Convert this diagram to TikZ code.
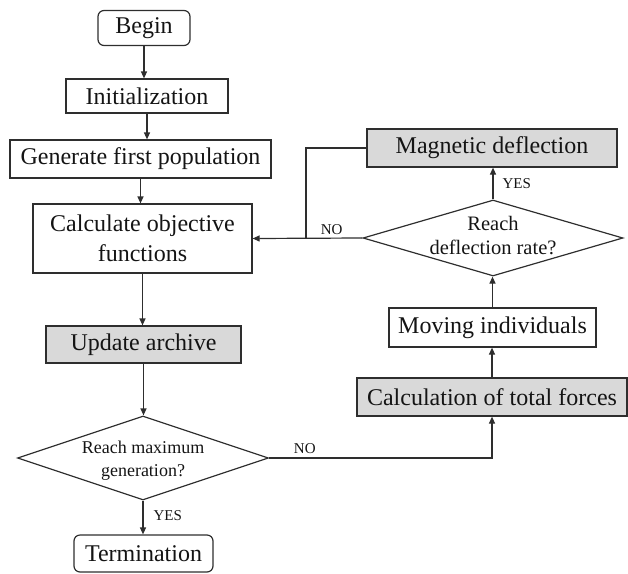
\documentclass[tikz,border=0pt]{standalone}
\usepackage{fontspec}
\setmainfont{Liberation Serif}
\usetikzlibrary{shapes.geometric,arrows.meta}
\definecolor{ln}{HTML}{2E2E2E}
\definecolor{gfill}{HTML}{D9D9D9}
\definecolor{tx}{HTML}{141414}
\tikzset{
  box/.style={draw=ln, line width=1.2pt, rectangle, inner sep=0pt, text=tx, align=center,
    font=\fontsize{24}{30}\selectfont},
  gbox/.style={box, fill=gfill},
  rbox/.style={box, rounded corners=6pt},
  dia/.style={draw=ln, line width=1.2pt, diamond, inner sep=0pt, text=tx},
  arr/.style={draw=ln, line width=1.2pt, -{Triangle[length=7pt,width=6pt]}},
  ln/.style={draw=ln, line width=1.2pt},
  lab/.style={text=tx, font=\fontsize{15}{16}\selectfont, inner sep=2pt}
}
\begin{document}
\begin{tikzpicture}[x=1pt,y=-1pt]
\useasboundingbox (0,0) rectangle (628,573);
\node[rbox, minimum width=92, minimum height=35] (begin) at (144,28) {Begin};
\node[box, minimum width=162, minimum height=34] (init) at (147,96) {Initialization};
\node[box, minimum width=261, minimum height=38] (gen) at (140.5,159) {Generate first population};
\node[box, minimum width=219, minimum height=69] (calc) at (142.5,238.5) {Calculate objective\\functions};
\node[gbox, minimum width=195, minimum height=37] (upd) at (143.5,344.5) {Update archive};
\node[dia, minimum width=251, minimum height=84] (dmax) at (143,458) {};
\node[text=tx, align=center, font=\fontsize{18}{23}\selectfont] (dmaxt) at (143,461) {Reach maximum\\generation?};
\node[rbox, minimum width=139, minimum height=37] (term) at (143.5,553.5) {Termination};
\node[gbox, minimum width=270, minimum height=38] (tot) at (492,397) {Calculation of total forces};
\node[box, minimum width=207, minimum height=39] (mov) at (492.5,327.5) {Moving individuals};
\node[dia, minimum width=260, minimum height=76] (d2) at (493,238) {};
\node[text=tx, align=center, font=\fontsize{20.5}{24}\selectfont] (d2t) at (493,236) {Reach\\deflection rate?};
\node[gbox, minimum width=250, minimum height=38] (mag) at (492,148) {Magnetic deflection};
\coordinate (k1) at (306,238);

\draw[arr] (begin) -- (begin |- init.north);
\draw[arr] (init) -- (init.south |- gen.north);
\draw[arr] (gen) -- (gen.south |- calc.north);
\draw[arr] (calc) -- (calc.south |- upd.north);
\draw[arr] (upd) -- (upd.south |- dmax.north);
\draw[arr] (dmax.south) -- node[lab, right, pos=0.45, xshift=8pt] {YES} (dmax.south |- term.north);
\draw[arr] (dmax.east) -| node[lab, above, pos=0.08, yshift=2pt] {NO} (tot.south);
\draw[arr] (tot) -- (tot.north |- mov.south);
\draw[arr] (mov) -- (mov.north |- d2.south);
\draw[arr] (d2.north) -- node[lab, right, pos=0.5, xshift=7pt] {YES} (d2.north |- mag.south);
\draw[arr] (d2.west) -- node[lab, above, pos=0.28, yshift=1pt] {NO} (calc.east);
\draw[ln] (mag.west) -| (k1);
\end{tikzpicture}
\end{document}
